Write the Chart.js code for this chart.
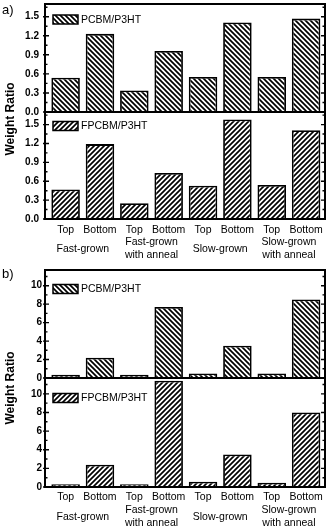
<!DOCTYPE html>
<html><head><meta charset="utf-8">
<script src="https://cdn.jsdelivr.net/npm/chart.js@4"></script>
<style>
html,body{margin:0;padding:0;background:#fff;}
#wrap{position:relative;width:332px;height:527px;overflow:hidden;font-family:"Liberation Sans",Arial,sans-serif;color:#000;}
canvas{position:absolute;left:0;top:0;}
.lbl{position:absolute;font-size:13px;line-height:15px;}
.yt{position:absolute;font-size:12px;font-weight:bold;white-space:nowrap;line-height:14px;transform:translate(-50%,-50%) rotate(-90deg);}
</style></head><body>
<div id="wrap">
<canvas id="c1" width="332" height="527"></canvas>
<canvas id="c2" width="332" height="527"></canvas>
<canvas id="c3" width="332" height="527"></canvas>
<canvas id="c4" width="332" height="527"></canvas>
<div class="lbl" style="left:2px;top:2px">a)</div>
<div class="lbl" style="left:2px;top:266px">b)</div>
<div class="yt" style="left:10px;top:119px">Weight Ratio</div>
<div class="yt" style="left:10px;top:388px">Weight Ratio</div>
</div>
<script>
const xLabels = ["Top","Bottom","Top","Bottom","Top","Bottom","Top","Bottom"];
const groupLabels = [["Fast-grown"],["Fast-grown","with anneal"],["Slow-grown"],["Slow-grown","with anneal"]];
const seriesNames = ["PCBM/P3HT","FPCBM/P3HT"];
const pcbmA  = [0.54, 1.23, 0.34, 0.96, 0.55, 1.41, 0.55, 1.47];
const fpcbmA = [0.47, 1.19, 0.25, 0.73, 0.53, 1.58, 0.54, 1.41];
const pcbmB  = [0.35, 2.2, 0.35, 7.7, 0.5, 3.5, 0.5, 8.5];
const fpcbmB = [0.3, 2.4, 0.3, 11.4, 0.57, 3.5, 0.46, 8.0];
const ticksA = [0, 0.3, 0.6, 0.9, 1.2, 1.5];
const ticksB = [0, 2, 4, 6, 8, 10];

const FONT = "'Liberation Sans', Arial, sans-serif";

function makePattern(ctx, dir){
  const p = 5;
  const c = document.createElement('canvas'); c.width = p; c.height = p;
  const g = c.getContext('2d');
  g.fillStyle = '#fff'; g.fillRect(0,0,p,p);
  g.strokeStyle = '#000'; g.lineWidth = 1.7; g.beginPath();
  if (dir === 'back') {
    g.moveTo(-1,-1); g.lineTo(p+1,p+1);
    g.moveTo(-1,p-1); g.lineTo(1,p+1);
    g.moveTo(p-1,-1); g.lineTo(p+1,1);
  } else {
    g.moveTo(-1,p+1); g.lineTo(p+1,-1);
    g.moveTo(-1,1); g.lineTo(1,-1);
    g.moveTo(p-1,p+1); g.lineTo(p+1,p-1);
  }
  g.stroke();
  return ctx.createPattern(c, 'repeat');
}

const framePlugin = {
  id: 'frame',
  afterDraw(chart, args, opts) {
    const {ctx, chartArea: a, scales} = chart;
    const y = scales.y, x = scales.x;
    ctx.save();
    ctx.strokeStyle = '#000';
    ctx.lineWidth = 2;
    ctx.strokeRect(a.left, a.top, a.right - a.left, a.bottom - a.top);
    ctx.lineWidth = 1.4;
    ctx.beginPath();
    const maj = opts.ticks, step = maj[1] - maj[0];
    maj.forEach(v => {
      const py = y.getPixelForValue(v);
      ctx.moveTo(a.left - 2, py); ctx.lineTo(a.left + 4, py);
      ctx.moveTo(a.right, py); ctx.lineTo(a.right - 4, py);
      const m = v + step / 2;
      if (m < y.max) {
        const pm = y.getPixelForValue(m);
        ctx.moveTo(a.left, pm); ctx.lineTo(a.left + 2.5, pm);
        ctx.moveTo(a.right, pm); ctx.lineTo(a.right - 2.5, pm);
      }
    });
    ctx.stroke();
    // legend
    const ly = a.top + opts.legendOffset;
    const ds = chart.data.datasets[0];
    ctx.fillStyle = ds.backgroundColor;
    ctx.fillRect(53, ly - 4.5, 25, 9);
    ctx.lineWidth = 1.5;
    ctx.strokeRect(53, ly - 4.5, 25, 9);
    ctx.fillStyle = '#000';
    ctx.font = "10.5px " + FONT;
    ctx.textAlign = 'left'; ctx.textBaseline = 'middle';
    ctx.fillText(ds.label, 81, ly + 0.5);
    // group labels
    if (opts.groups) {
      ctx.textAlign = 'center';
      groupLabels.forEach((lines, k) => {
        const cx = (x.getPixelForValue(2*k) + x.getPixelForValue(2*k+1)) / 2;
        if (lines.length === 1) {
          ctx.fillText(lines[0], cx, a.bottom + 30.5);
        } else {
          ctx.fillText(lines[0], cx, a.bottom + 23.5);
          ctx.fillText(lines[1], cx, a.bottom + 36.5);
        }
      });
    }
    ctx.restore();
  }
};

function makeChart(id, values, name, dir, yTicks, yMax, dec, top, bottom, showX, legendOffset, tickPad, xPad) {
  const canvas = document.getElementById(id);
  const ctx = canvas.getContext('2d');
  const pat = makePattern(ctx, dir);
  const xh = showX ? 20 : 0;
  return new Chart(ctx, {
    type: 'bar',
    data: { datasets: [{
      label: name,
      data: values.map((v, i) => ({x: i, y: v})),
      backgroundColor: pat, borderColor: '#000', borderWidth: 1.8,
      categoryPercentage: 0.83, barPercentage: 1
    }]},
    options: {
      responsive: false, animation: false, devicePixelRatio: 1,
      layout: { autoPadding: false, padding: {left: 0, right: 7, top: top, bottom: 527 - bottom - xh} },
      plugins: {
        legend: {display: false}, tooltip: {enabled: false},
        frame: { ticks: yTicks, legendOffset: legendOffset, groups: showX }
      },
      scales: {
        x: {
          type: 'linear', min: -0.6, max: 7.55, offset: false, display: showX,
          grid: {display: false, drawTicks: false}, border: {display: false},
          afterBuildTicks(s) { s.ticks = xLabels.map((_, i) => ({value: i})); },
          afterFit(s) { s.height = xh; s.paddingLeft = 0; s.paddingRight = 0; },
          ticks: { callback: v => xLabels[v], font: {family: FONT, size: 10.5}, color: '#000', padding: xPad, maxRotation: 0, autoSkip: false }
        },
        y: {
          min: 0, max: yMax,
          grid: {display: false, drawTicks: false}, border: {display: false},
          afterBuildTicks(s) { s.ticks = yTicks.map(v => ({value: v})); },
          afterFit(s) { s.width = 45; s.paddingTop = 0; s.paddingBottom = 0; },
          ticks: { callback: v => Number(v).toFixed(dec), font: {family: FONT, size: 10, weight: 'bold'}, color: '#000', padding: tickPad }
        }
      }
    },
    plugins: [framePlugin]
  });
}

makeChart('c1', pcbmA,  seriesNames[0], 'back', ticksA, 1.7, 1, 4,   112, false, 15.5, 6, 5);
makeChart('c2', fpcbmA, seriesNames[1], 'fwd',  ticksA, 1.7, 1, 112, 219, true,  14,   6, 5);
makeChart('c3', pcbmB,  seriesNames[0], 'back', ticksB, 11.7, 0, 270, 378, false, 19,  3, 4);
makeChart('c4', fpcbmB, seriesNames[1], 'fwd',  ticksB, 11.7, 0, 378, 487, true,  20,  3, 4);
</script>
</body></html>
